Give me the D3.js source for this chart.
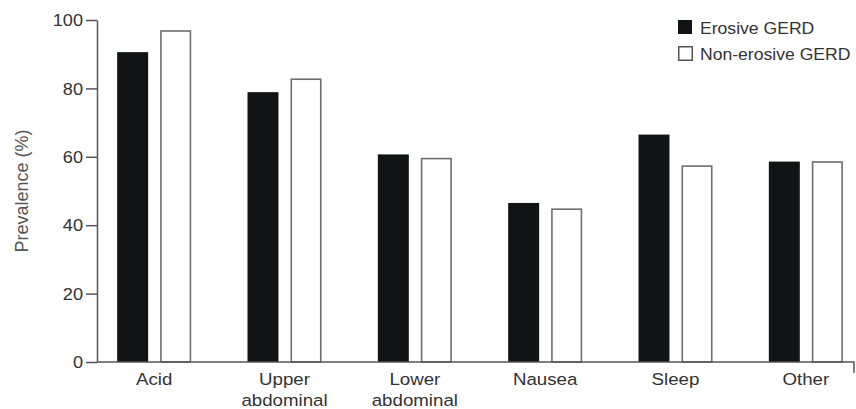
<!DOCTYPE html>
<html><head><meta charset="utf-8">
<script src="https://cdn.jsdelivr.net/npm/d3@7"></script>
<style>
html,body{margin:0;padding:0;background:#fff;overflow:hidden}
svg{display:block;font-family:"Liberation Sans",Arial,Helvetica,sans-serif}
</style></head>
<body>
<svg id="chart" width="856" height="409"></svg>
<script>
const categories = [["Acid"], ["Upper", "abdominal"], ["Lower", "abdominal"], ["Nausea"], ["Sleep"], ["Other"]];
const seriesNames = ["Erosive GERD", "Non-erosive GERD"];
const erosive = [90.6, 78.9, 60.7, 46.5, 66.5, 58.6];
const nonErosive = [97.0, 82.9, 59.7, 44.9, 57.5, 58.7];
const yTicks = [0, 20, 40, 60, 80, 100];
const yTitle = "Prevalence (%)";

const SX = 1.1; // horizontal stretch of the text in the reference
const svg = d3.select("#chart");
const axisX = 97, axisEnd = 854;
const y = d3.scaleLinear().domain([0, 100]).range([362, 20]);
const keys = categories.map((c, i) => i);
const x = d3.scaleBand().domain(keys).range([89, 871]).padding(0);
const sub = d3.scaleBand().domain([0, 1]).range([-37, 37]).paddingInner(0.28);

const data = keys.map(i => ({i, vals: [erosive[i], nonErosive[i]]}));

// bars
const g = svg.append("g");
data.forEach(d => {
  const cx = x(d.i) + x.bandwidth() / 2;
  g.append("rect")
    .attr("x", cx + sub(0)).attr("width", sub.bandwidth())
    .attr("y", y(d.vals[0])).attr("height", y(0) - y(d.vals[0]))
    .attr("fill", "#121314");
  g.append("rect")
    .attr("x", cx + sub(1) + 0.75).attr("width", sub.bandwidth() - 1.5)
    .attr("y", y(d.vals[1]) + 0.75).attr("height", y(0) - y(d.vals[1]) - 0.75)
    .attr("fill", "#fff").attr("stroke", "#6e6e6e").attr("stroke-width", 1.6);
});

// y axis
const yAxis = svg.append("g").attr("transform", `translate(${axisX},0)`)
  .call(d3.axisLeft(y).tickValues(yTicks).tickSize(11).tickSizeOuter(0).tickPadding(3));
yAxis.select(".domain").attr("stroke", "#555").attr("stroke-width", 1.5);
yAxis.selectAll(".tick line").attr("stroke", "#555").attr("stroke-width", 1.5);
yAxis.selectAll(".tick text")
  .attr("font-size", 16.5).attr("fill", "#333")
  .attr("font-family", "Liberation Sans, Arial, sans-serif")
  .attr("x", -14 / SX).attr("dy", "0.35em")
  .attr("transform", `scale(${SX},1)`);

// x axis line
svg.append("path")
  .attr("d", `M${axisX},${y(0)}H${axisEnd}V${y(0) + 11}`)
  .attr("fill", "none").attr("stroke", "#555").attr("stroke-width", 1.5);

// x labels
data.forEach(d => {
  const cx = x(d.i) + x.bandwidth() / 2;
  const t = svg.append("text").attr("text-anchor", "middle")
    .attr("font-size", 17).attr("fill", "#333")
    .attr("transform", `translate(${cx},0) scale(${SX},1)`);
  categories[d.i].forEach((line, k) => {
    t.append("tspan").attr("x", 0).attr("y", 385 + k * 21.5).text(line);
  });
});

// y title
svg.append("text")
  .attr("transform", `translate(28,${(y(0) + y(100)) / 2}) rotate(-90)`)
  .attr("text-anchor", "middle").attr("font-size", 18).attr("fill", "#555")
  .text(yTitle);

// legend
const legend = svg.append("g").attr("transform", "translate(678,20)");
seriesNames.forEach((name, k) => {
  const row = legend.append("g").attr("transform", `translate(0,${k * 26})`);
  if (k === 0) {
    row.append("rect").attr("x", 0).attr("y", 0).attr("width", 14).attr("height", 14).attr("fill", "#121314");
  } else {
    row.append("rect").attr("x", 0.75).attr("y", 0.75).attr("width", 13.5).attr("height", 13.5)
      .attr("fill", "#fff").attr("stroke", "#555").attr("stroke-width", 1.5);
  }
  row.append("text").attr("transform", `translate(22,13.5) scale(${SX},1)`)
    .attr("font-size", 16).attr("fill", "#333").text(name);
});
</script>
</body></html>
